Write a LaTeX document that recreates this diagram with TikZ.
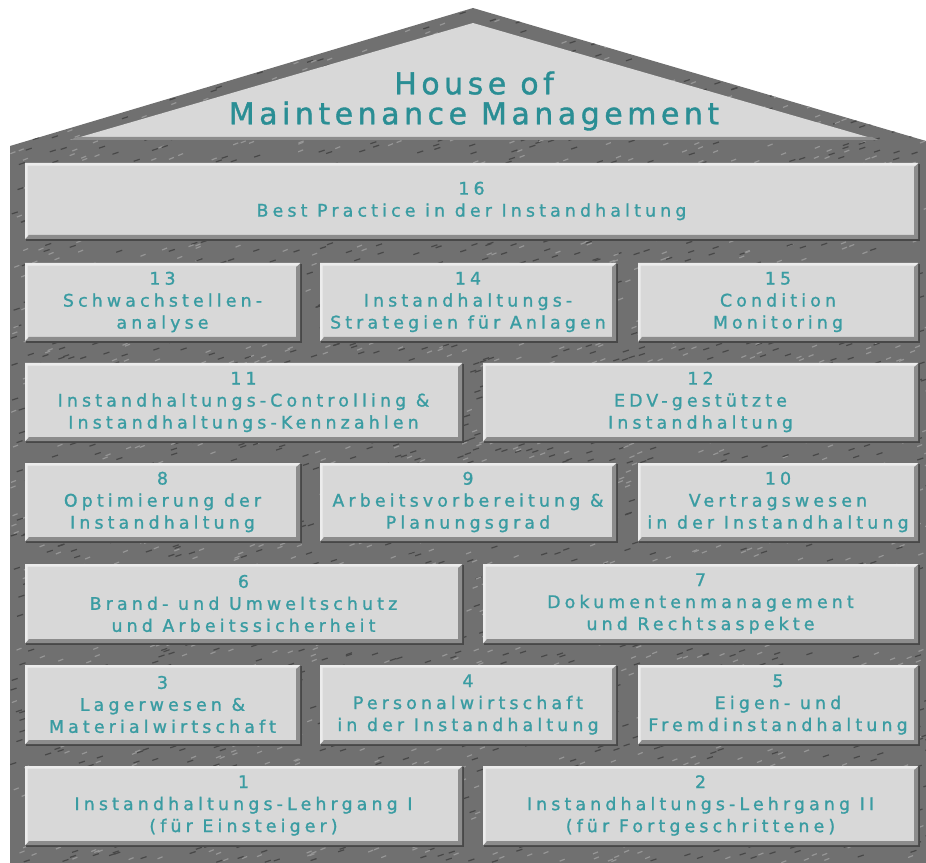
\documentclass[tikz,border=0pt]{standalone}
\usepackage{fontspec}
\setmainfont{DejaVu Sans}
\newfontfamily\bodyfont[LetterSpace=24,FakeBold=1.2]{DejaVu Sans}
\newfontfamily\titlefont[LetterSpace=15,FakeBold=1.2]{DejaVu Sans}
\definecolor{mortarc}{RGB}{112,112,112}
\definecolor{mortardark}{RGB}{72,72,72}
\definecolor{mortarlight}{RGB}{150,150,150}
\definecolor{brickc}{RGB}{216,216,216}
\definecolor{brickhi}{RGB}{236,236,236}
\definecolor{brickdark}{RGB}{140,140,140}
\definecolor{tealc}{RGB}{58,156,162}
\definecolor{titlec}{RGB}{42,142,148}
\tikzset{
  brickbox/.style={fill=brickc, inner sep=0pt, align=center, text=tealc,
    font=\bodyfont\fontsize{13}{16.5}\selectfont,
    path picture={
      \fill[brickdark] (path picture bounding box.south west) -- (path picture bounding box.south east)
        -- (path picture bounding box.north east) -- ([xshift=-3pt,yshift=-3pt]path picture bounding box.north east)
        -- ([xshift=-3pt,yshift=3pt]path picture bounding box.south east) -- ([xshift=3pt,yshift=3pt]path picture bounding box.south west) -- cycle;
      \fill[brickhi] (path picture bounding box.south west) -- (path picture bounding box.north west)
        -- (path picture bounding box.north east) -- ([xshift=-2pt,yshift=-2pt]path picture bounding box.north east)
        -- ([xshift=2pt,yshift=-2pt]path picture bounding box.north west) -- ([xshift=2pt,yshift=2pt]path picture bounding box.south west) -- cycle;
    }},
  titlebox/.style={inner sep=0pt, align=center, text=titlec,
    font=\titlefont\fontsize{22.5}{22.5}\selectfont}
}
\newcommand\brick[6]{%
  \fill[mortardark] (#2+1,#3+1) rectangle (#4+2,#5+2);
  \node[brickbox, minimum width={(#4-#2)*0.75pt}, minimum height={(#5-#3)*0.75pt}] (#1) at ({(#2+#4)/2},{(#3+#5)/2}) {#6};
}
\begin{document}
\begin{tikzpicture}[x=0.75pt,y=-0.75pt]
\useasboundingbox (0,0) rectangle (926,863);
% house silhouette (mortar)
\fill[mortarc] (10,863) -- (10,146) -- (473,8) -- (926,141) -- (926,863) -- cycle;
\begin{scope}
\clip (10,863) -- (10,146) -- (473,8) -- (926,141) -- (926,863) -- cycle;
\pgfmathsetseed{42}
\foreach \i in {1,...,2000}{
  \pgfmathsetmacro\px{10+916*rnd}
  \pgfmathsetmacro\py{8+855*rnd}
  \draw[mortardark, line width=0.9pt] (\px,\py) -- ++(6,-2);
  \pgfmathsetmacro\qx{10+916*rnd}
  \pgfmathsetmacro\qy{8+855*rnd}
  \draw[mortarlight, line width=0.9pt] (\qx,\qy) -- ++(5,-2);
}
\end{scope}
% roof gable
\fill[brickc] (70,140) -- (473,23) -- (878,140) -- cycle;
\fill[brickdark] (70,140) -- (878,140) -- (872,137) -- (78,137) -- cycle;
\node[titlebox] (title) at (474,101) {House of\\Maintenance Management};
% bricks
\brick{b16}{25}{163}{918}{239}{16\\Best Practice in der Instandhaltung}
\brick{b13}{25}{263}{300}{341}{13\\Schwachstellen-\\analyse}
\brick{b14}{320}{263}{616}{341}{14\\Instandhaltungs-\\Strategien für Anlagen}
\brick{b15}{638}{263}{918}{341}{15\\Condition\\Monitoring}
\brick{b11}{25}{363}{462}{441}{11\\Instandhaltungs-Controlling \&\\Instandhaltungs-Kennzahlen}
\brick{b12}{483}{363}{918}{441}{12\\EDV-gestützte\\Instandhaltung}
\brick{b8}{25}{463}{300}{541}{8\\Optimierung der\\Instandhaltung}
\brick{b9}{320}{463}{616}{541}{9\\Arbeitsvorbereitung \&\\Planungsgrad}
\brick{b10}{638}{463}{918}{541}{10\\Vertragswesen\\in der Instandhaltung}
\brick{b6}{25}{564}{462}{643}{6\\Brand- und Umweltschutz\\und Arbeitssicherheit}
\brick{b7}{483}{564}{918}{643}{7\\Dokumentenmanagement\\und Rechtsaspekte}
\brick{b3}{25}{665}{300}{744}{3\\Lagerwesen \&\\Materialwirtschaft}
\brick{b4}{320}{665}{616}{744}{4\\Personalwirtschaft\\in der Instandhaltung}
\brick{b5}{638}{665}{918}{744}{5\\Eigen- und\\Fremdinstandhaltung}
\brick{b1}{25}{766}{462}{845}{1\\Instandhaltungs-Lehrgang I\\(für Einsteiger)}
\brick{b2}{483}{766}{918}{845}{2\\Instandhaltungs-Lehrgang II\\(für Fortgeschrittene)}
\end{tikzpicture}
\end{document}
